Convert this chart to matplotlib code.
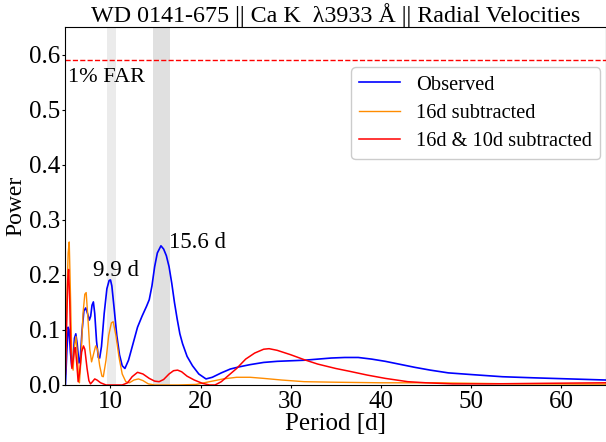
"""Lomb-Scargle periodogram of the Ca K radial velocities of WD 0141-675."""

import matplotlib
matplotlib.use("Agg")
import matplotlib.pyplot as plt

plt.rcParams["font.family"] = ["Liberation Serif", "DejaVu Serif"]
plt.rcParams["mathtext.fontset"] = "stix"

# observed periodogram
obs_period = [5.0, 5.15, 5.3, 5.4, 5.55, 5.7, 5.85, 6.0, 6.15, 6.3, 6.5, 6.65,
              6.85, 7.05, 7.25, 7.45, 7.65, 7.8, 7.95, 8.1, 8.25, 8.45, 8.65,
              8.8, 9.0, 9.3, 9.6, 9.85, 10.0, 10.15, 10.4, 10.7, 11.0, 11.3,
              11.6, 12.0, 12.5, 13.0, 13.5, 14.0, 14.3, 14.6, 14.9, 15.2, 15.6,
              15.9, 16.2, 16.5, 16.8, 17.1, 17.4, 17.7, 18.0, 18.5, 19.1, 19.8,
              20.6, 21.3, 22.3, 23.3, 24.3, 25.5, 27.0, 28.5, 30.0, 31.5, 33.0,
              34.5, 36.0, 37.5, 39.0, 40.5, 42.0, 43.8, 45.5, 47.5, 50.0, 53.5,
              57.0, 61.0, 65.0]
obs_power = [0.0, 0.06, 0.105, 0.10, 0.06, 0.033, 0.05, 0.085, 0.093, 0.075,
             0.04, 0.05, 0.10, 0.135, 0.14, 0.13, 0.118, 0.125, 0.145, 0.151,
             0.13, 0.08, 0.05, 0.049, 0.07, 0.13, 0.175, 0.19, 0.191, 0.18,
             0.14, 0.09, 0.055, 0.035, 0.030, 0.045, 0.075, 0.105, 0.125,
             0.143, 0.155, 0.18, 0.215, 0.24, 0.253, 0.247, 0.235, 0.215,
             0.185, 0.15, 0.12, 0.093, 0.075, 0.052, 0.035, 0.02, 0.011,
             0.014, 0.022, 0.029, 0.033, 0.037, 0.041, 0.043, 0.044, 0.045,
             0.047, 0.049, 0.050, 0.050, 0.047, 0.043, 0.038, 0.032, 0.027,
             0.022, 0.019, 0.015, 0.013, 0.011, 0.009]

# after subtracting the 16 d signal
sub16_period = [5.0, 5.15, 5.3, 5.42, 5.55, 5.7, 5.85, 6.0, 6.16, 6.3, 6.45,
                6.55, 6.7, 6.95, 7.15, 7.3, 7.5, 7.7, 7.9, 8.1, 8.35, 8.55,
                8.8, 9.05, 9.2, 9.5, 9.8, 10.1, 10.3, 10.6, 10.95, 11.3, 11.7,
                12.1, 12.6, 13.1, 13.6, 14.2, 14.9, 16.0, 17.5, 19.5, 21.0,
                22.5, 24.0, 25.5, 27.0, 29.0, 31.5, 35.0, 40.0, 46.0, 55.0,
                65.0]
sub16_power = [0.03, 0.15, 0.24, 0.26, 0.17, 0.05, 0.027, 0.07, 0.088, 0.06,
               0.015, 0.004, 0.04, 0.13, 0.165, 0.168, 0.12, 0.065, 0.042,
               0.055, 0.071, 0.065, 0.035, 0.016, 0.015, 0.045, 0.09, 0.113,
               0.115, 0.09, 0.05, 0.02, 0.006, 0.004, 0.009, 0.011, 0.008,
               0.002, 0.0, 0.0, 0.0, 0.001, 0.006, 0.011, 0.014, 0.014, 0.012,
               0.009, 0.006, 0.005, 0.004, 0.004, 0.002, 0.0015]

# after subtracting both the 16 d and 10 d signals
sub1610_period = [5.0, 5.12, 5.25, 5.35, 5.48, 5.6, 5.72, 5.85, 6.0, 6.1,
                  6.25, 6.41, 6.55, 6.8, 7.0, 7.15, 7.4, 7.6, 7.78, 8.0, 8.25,
                  8.5, 8.9, 9.5, 10.5, 11.3, 11.9, 12.4, 13.0, 13.6, 14.3,
                  14.9, 15.4, 15.9, 16.5, 17.0, 17.45, 17.9, 18.5, 19.3, 20.2,
                  21.0, 21.6, 22.3, 23.0, 24.0, 25.0, 26.0, 27.0, 27.6, 28.5,
                  30.0, 31.5, 33.0, 35.0, 36.5, 38.5, 40.5, 43.0, 45.0, 48.0,
                  52.0, 58.0, 65.0]
sub1610_power = [0.02, 0.10, 0.19, 0.21, 0.15, 0.06, 0.03, 0.045, 0.066,
                 0.068, 0.04, 0.006, 0.02, 0.06, 0.071, 0.065, 0.03, 0.008,
                 0.002, 0.006, 0.011, 0.009, 0.004, 0.0, 0.0, 0.0, 0.004,
                 0.015, 0.023, 0.02, 0.012, 0.007, 0.006, 0.01, 0.02, 0.026,
                 0.027, 0.024, 0.016, 0.009, 0.003, 0.0, 0.0, 0.006, 0.016,
                 0.030, 0.047, 0.058, 0.065, 0.066, 0.063, 0.055, 0.046, 0.038,
                 0.030, 0.025, 0.018, 0.012, 0.006, 0.004, 0.002, 0.002, 0.003,
                 0.004]

far_level = 0.59
bands = [(9.58, 10.57), (14.75, 16.6)]
peak_labels = [(8.04, 0.199, "9.9 d"), (16.5, 0.249, "15.6 d")]

fig = plt.figure(figsize=(6.06, 4.42), dpi=100)
ax = fig.add_axes([0.108, 0.129, 0.892, 0.809])

ax.axvspan(*bands[0], color="#ebebeb", lw=0)
ax.axvspan(*bands[1], color="#e0e0e0", lw=0)

ax.plot(obs_period, obs_power, color="blue", lw=1.2, label="Observed")
ax.plot(sub16_period, sub16_power, color="darkorange", lw=1.0,
        label="16d subtracted")
ax.plot(sub1610_period, sub1610_power, color="red", lw=1.1,
        label="16d & 10d subtracted")

ax.axhline(far_level, color="red", ls="--", lw=1.0)
ax.text(5.25, far_level - 0.013, "1% FAR", ha="left", va="top", fontsize=16)

for px, py, label in peak_labels:
    ax.text(px, py, label, ha="left", va="baseline", fontsize=16.5)

ax.set_xlim(5, 65)
ax.set_ylim(0, 0.65)
ax.set_xticks([10, 20, 30, 40, 50, 60])
ax.set_yticks([0.0, 0.1, 0.2, 0.3, 0.4, 0.5, 0.6])
ax.tick_params(labelsize=18, length=2.5, pad=1.5)
ax.set_xlabel("Period [d]", fontsize=18, labelpad=0)
ax.set_ylabel("Power", fontsize=17, labelpad=1.5)
ax.set_title("WD 0141-675 || Ca K  λ3933 Å || Radial Velocities",
             fontsize=17.3, pad=4)

ax.legend(loc="upper right", bbox_to_anchor=(0.989, 0.888), borderaxespad=0,
          fontsize=14.7, framealpha=1.0, borderpad=0.38, handlelength=2.0,
          handletextpad=0.8, labelspacing=0.45)

fig.savefig("out.png", dpi=100)
